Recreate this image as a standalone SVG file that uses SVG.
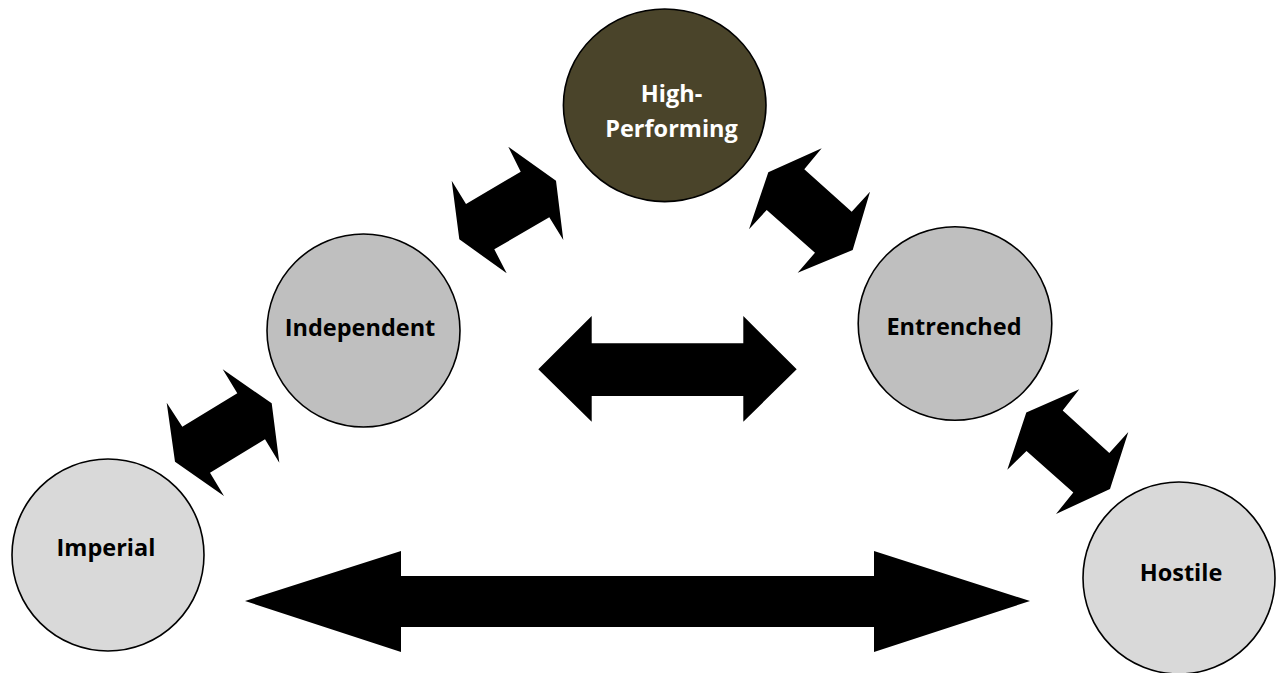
<svg xmlns="http://www.w3.org/2000/svg" width="1276" height="673" viewBox="0 0 1276 673">
  <style>
    .node { stroke: #000000; stroke-width: 1.6; }
    .dark { fill: #4a442a; }
    .mid { fill: #bfbfbf; }
    .light { fill: #d9d9d9; }
    .label { font-family: "Open Sans", "Liberation Sans", sans-serif; font-weight: bold; font-size: 23.5px; text-anchor: middle; fill: #000000; }
    .label.white { fill: #ffffff; }
    .arrow { fill: #000000; stroke: none; }
  </style>
  <rect width="1276" height="673" fill="#ffffff"/>
  <g id="connectors">
    <polygon class="arrow" points="222.7,369.3 237.3,393.3 182.3,426.7 166.7,402.7 175,461.7 224,496 210,472.7 265,439.3 279.3,462.7 271.7,403.3"/>
    <polygon class="arrow" points="508.3,146.7 520.7,171.7 466,204 451.7,180.7 459.3,239.3 506.7,273.3 494.3,249.3 549.3,217.3 563.3,240 556,180.7"/>
    <polygon class="arrow" points="821.7,148.3 804.3,169.3 851.7,211.7 870,191.7 852.7,250 797.7,272.7 815,252.7 766.7,210 749,229.3 768.3,172.3"/>
    <polygon class="arrow" points="1079.3,389.3 1062.7,410.5 1109.3,453 1128.3,432 1110,489 1056,514 1073.3,492.5 1026.5,451 1007.3,469.7 1026.3,412.5"/>
    <polygon class="arrow" points="538.3,369.3 591.7,316 591.7,343.3 743.3,343.3 743.3,316 796.7,369.3 743.3,421.7 743.3,396 591.7,396 591.7,421.7"/>
    <polygon class="arrow" points="245,601 401,551 401,576 874,576 874,551 1030,601 874,652 874,627 401,627 401,652"/>
  </g>
  <g id="node-high-performing">
    <ellipse class="node dark" cx="664.7" cy="105.3" rx="101.3" ry="96.3"/>
    <text class="label white" x="671.5" y="102">High-</text>
    <text class="label white" x="671.5" y="137">Performing</text>
  </g>
  <g id="node-independent">
    <circle class="node mid" cx="363.5" cy="330.5" r="96.5"/>
    <text class="label" x="360" y="336">Independent</text>
  </g>
  <g id="node-entrenched">
    <circle class="node mid" cx="955" cy="323.5" r="96.8"/>
    <text class="label" x="954" y="335">Entrenched</text>
  </g>
  <g id="node-imperial">
    <circle class="node light" cx="108" cy="555" r="96"/>
    <text class="label" x="106" y="556">Imperial</text>
  </g>
  <g id="node-hostile">
    <circle class="node light" cx="1179" cy="578" r="96"/>
    <text class="label" x="1181" y="581">Hostile</text>
  </g>
</svg>
